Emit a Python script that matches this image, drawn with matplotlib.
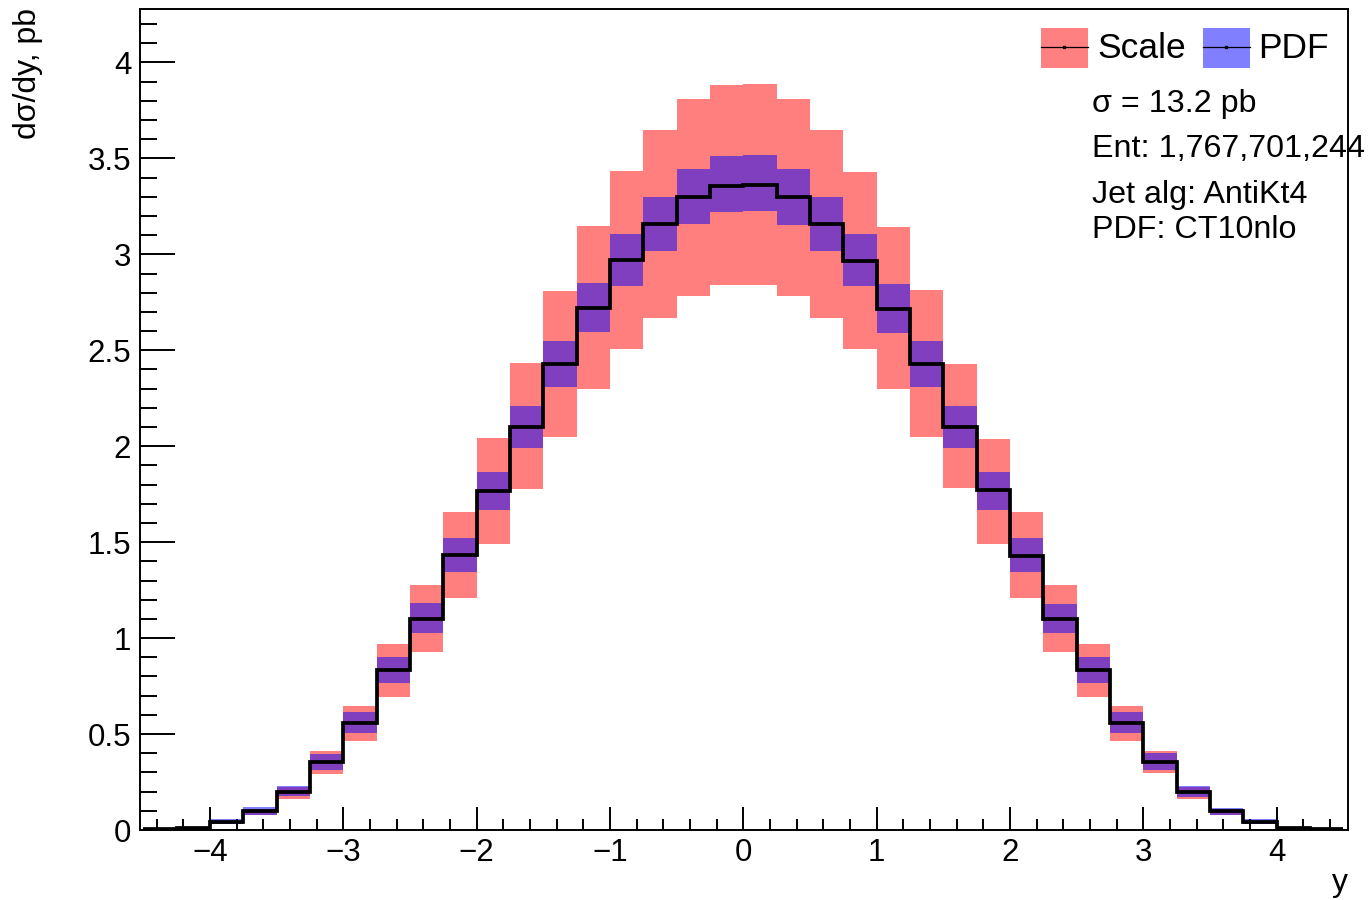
import numpy as np
import matplotlib
matplotlib.use("Agg")
import matplotlib.pyplot as plt
from matplotlib.patches import Rectangle
from matplotlib.lines import Line2D
from matplotlib.ticker import MultipleLocator, FixedLocator, FixedFormatter

plt.rcParams['font.family'] = ['Liberation Sans', 'DejaVu Sans']

# ---- data ----
bin_edges = np.arange(-4.5, 4.5001, 0.25)
central = [0.004, 0.012, 0.040, 0.098, 0.200, 0.356, 0.559, 0.834, 1.102, 1.433,
           1.768, 2.102, 2.430, 2.722, 2.970, 3.158, 3.299, 3.356,
           3.361, 3.299, 3.158, 2.965, 2.715, 2.428, 2.100, 1.770, 1.430, 1.100,
           0.833, 0.558, 0.353, 0.200, 0.099, 0.040, 0.013, 0.004]
pdf_lo = [0.003, 0.009, 0.030, 0.076, 0.177, 0.313, 0.507, 0.766, 1.028, 1.346,
          1.668, 1.992, 2.310, 2.597, 2.836, 3.017, 3.158, 3.221,
          3.226, 3.153, 3.017, 2.836, 2.592, 2.310, 1.990, 1.670, 1.345, 1.027,
          0.765, 0.507, 0.313, 0.170, 0.078, 0.030, 0.009, 0.003]
pdf_hi = [0.005, 0.016, 0.056, 0.118, 0.231, 0.396, 0.615, 0.901, 1.181, 1.522,
          1.866, 2.210, 2.548, 2.850, 3.106, 3.299, 3.445, 3.512,
          3.517, 3.445, 3.299, 3.106, 2.845, 2.548, 2.210, 1.865, 1.520, 1.180,
          0.900, 0.614, 0.400, 0.231, 0.117, 0.055, 0.016, 0.005]
scale_lo = [0.0035, 0.010, 0.032, 0.078, 0.160, 0.292, 0.464, 0.695, 0.929, 1.210,
            1.492, 1.779, 2.050, 2.298, 2.508, 2.670, 2.784, 2.842,
            2.842, 2.784, 2.670, 2.508, 2.300, 2.050, 1.780, 1.490, 1.210, 0.930,
            0.695, 0.464, 0.295, 0.163, 0.078, 0.032, 0.010, 0.0035]
scale_hi = [0.0045, 0.014, 0.048, 0.107, 0.225, 0.412, 0.646, 0.969, 1.277, 1.657,
            2.043, 2.434, 2.809, 3.147, 3.434, 3.648, 3.809, 3.882,
            3.887, 3.809, 3.648, 3.429, 3.142, 2.814, 2.430, 2.040, 1.655, 1.275,
            0.968, 0.645, 0.412, 0.225, 0.107, 0.048, 0.014, 0.0045]
y_ticks = [0, 0.5, 1, 1.5, 2, 2.5, 3, 3.5, 4]
y_ticklabels = ["0", "0.5", "1", "1.5", "2", "2.5", "3", "3.5", "4"]
x_ticks = [-4, -3, -2, -1, 0, 1, 2, 3, 4]
info_lines = ["σ = 13.2 pb", "Ent: 1,767,701,244", "Jet alg: AntiKt4", "PDF: CT10nlo"]

W, H = 1369, 900
fig = plt.figure(figsize=(W / 100, H / 100), dpi=100)

def px(x, y):
    return (x / W, 1 - y / H)

L, R, T, B = 139.5, 1348, 9.3, 830
ax = fig.add_axes([L / W, 1 - B / H, (R - L) / W, (B - T) / H])

red = (1, 0, 0, 0.5)
blue = (0, 0, 1, 0.5)
ax.stairs(scale_hi, bin_edges, baseline=scale_lo, fill=True, color=red, lw=0)
ax.stairs(pdf_hi, bin_edges, baseline=pdf_lo, fill=True, color=blue, lw=0)
ax.stairs(central, bin_edges, color='black', lw=2.7, baseline=None, zorder=3)

ax.set_xlim(-4.53, 4.535)
ax.set_ylim(0, 4.277)

ax.xaxis.set_major_locator(FixedLocator(x_ticks))
ax.xaxis.set_minor_locator(MultipleLocator(0.2))
ax.yaxis.set_major_locator(FixedLocator(y_ticks))
ax.yaxis.set_major_formatter(FixedFormatter(y_ticklabels))
ax.yaxis.set_minor_locator(MultipleLocator(0.1))

ax.tick_params(axis='both', which='both', direction='in', top=False, right=False,
               width=1.4, labelsize=22.5, color='black')
ax.tick_params(axis='x', which='major', length=16.5, pad=6)
ax.tick_params(axis='x', which='minor', length=8)
ax.tick_params(axis='y', which='major', length=25, pad=6)
ax.tick_params(axis='y', which='minor', length=12.5)
for s in ax.spines.values():
    s.set_linewidth(1.4)

# axis titles
fig.text(*px(28, 8), "dσ/dy, pb", rotation=90, ha='center', va='top', fontsize=23)
fig.text(*px(1348, 891.5), "y", ha='right', va='baseline', fontsize=23)

# legend
for (x0, col, lab, tx) in [(1041, (1, 0.5, 0.5), "Scale", 1097), (1203, (0.5, 0.5, 1), "PDF", 1258)]:
    xa, ya = px(x0, 67.7)
    fig.patches.append(Rectangle((xa, ya), 46.7 / W, 39.4 / H, transform=fig.transFigure,
                                 facecolor=col, edgecolor='none'))
    xl0, yl = px(x0, 47.3)
    xl1, _ = px(x0 + 46.7, 47.3)
    fig.lines.append(Line2D([xl0, xl1], [yl, yl], transform=fig.transFigure, color='black', lw=0.9))
    fig.lines.append(Line2D([(xl0 + xl1) / 2], [yl], transform=fig.transFigure, color='black',
                            marker='s', markersize=1.8, lw=0))
    fig.text(*px(tx, 58), lab, ha='left', va='baseline', fontsize=25.5)

for line, yb in zip(info_lines, [112, 156.7, 203, 237.5]):
    fig.text(*px(1092, yb), line, ha='left', va='baseline', fontsize=23.2)

fig.savefig("out.png", dpi=100)
